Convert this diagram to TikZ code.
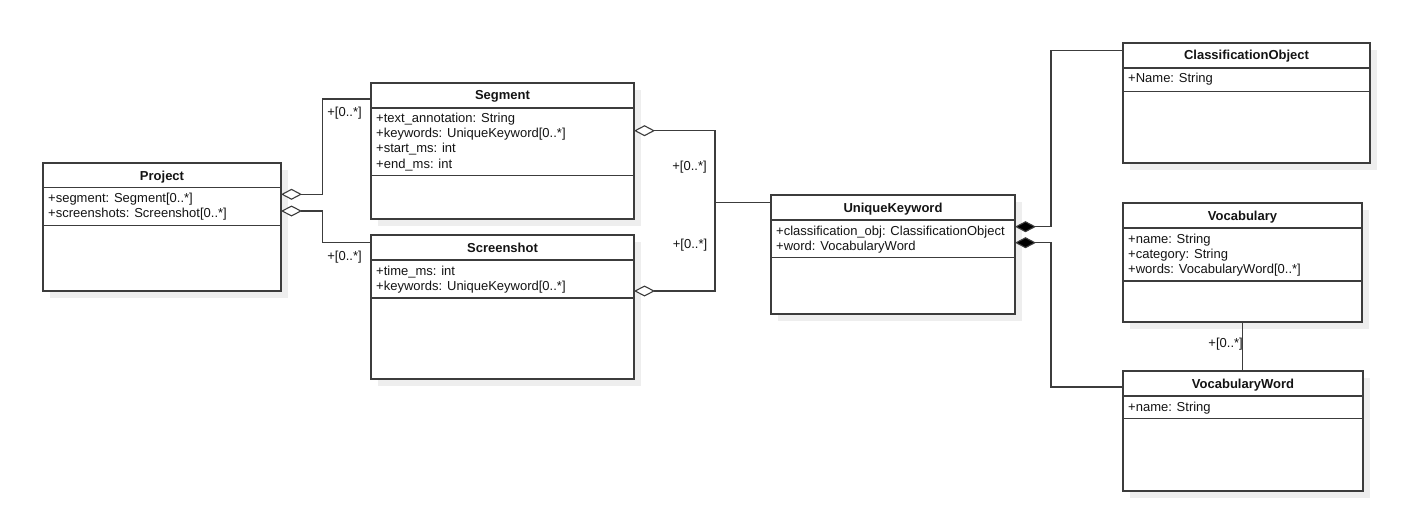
\documentclass[tikz,border=0pt]{standalone}
\usepackage{fontspec}
\setmainfont{Liberation Sans}
\usetikzlibrary{arrows.meta}
\definecolor{linec}{RGB}{60,60,60}
\definecolor{shadowc}{RGB}{238,238,238}
\definecolor{textc}{RGB}{20,20,20}
\tikzset{
  classbox/.style={draw=linec, fill=white, line width=1.1pt, inner sep=0pt, outer sep=0pt, rectangle},
  boxline/.style={draw=linec, line width=1.1pt},
  titlef/.style={font=\fontsize{13}{15}\selectfont\bfseries, text=textc, inner sep=0pt},
  attrf/.style={font=\fontsize{13}{15}\selectfont, text=textc, inner sep=0pt},
  conn/.style={draw=linec, line width=1.1pt},
  odia/.style={conn, {Diamond[fill=white, length=21pt, width=11pt]}-},
  fdia/.style={conn, {Diamond[fill=black, length=21pt, width=11pt]}-},
  mult/.style={font=\fontsize{13}{15}\selectfont, text=textc, inner sep=0pt},
}
% #1 name #2 x #3 y #4 w #5 h #6 header divider #7 attribute divider #8 title #9 attributes
\newcommand\umlclass[9]{%
  \fill[shadowc] (#2+7,#3+7) rectangle (#2+#4+7,#3+#5+7);
  \node[classbox, minimum width=#4pt, minimum height=#5pt, anchor=north west] (#1) at (#2,#3) {};
  \draw[boxline] ([yshift=-#6pt]#1.north west) -- ([yshift=-#6pt]#1.north east);
  \draw[boxline] ([yshift=-#7pt]#1.north west) -- ([yshift=-#7pt]#1.north east);
  \node[titlef, anchor=base] (#1-t) at ([yshift=-17pt]#1.north) {#8};
  \foreach \t [count=\i] in {#9}
    \node[attrf, anchor=base west] (#1-a\i) at ([xshift=5pt, yshift={-(#6+15*\i)*1pt}]#1.north west) {\t};
}
\begin{document}
\begin{tikzpicture}[x=1pt, y=-1pt]
\useasboundingbox (0,0) rectangle (1418,524);
\fill[white] (0,0) rectangle (1418,524);

\umlclass{proj}{43}{163}{238}{128}{24.7}{62.7}{Project}{{+segment: Segment[0..*]},{+screenshots: Screenshot[0..*]}}
\umlclass{seg}{371}{83}{263}{136}{25}{92.3}{Segment}{{+text\_annotation: String},{+keywords: UniqueKeyword[0..*]},{+start\_ms: int},{+end\_ms: int}}
\umlclass{scr}{371}{235}{263}{144}{25}{63}{Screenshot}{{+time\_ms: int},{+keywords: UniqueKeyword[0..*]}}
\umlclass{uk}{771}{195}{244}{119}{25}{62.7}{UniqueKeyword}{{+classification\_obj: ClassificationObject},{+word: VocabularyWord}}
\umlclass{co}{1123}{43}{247}{120}{25}{48.3}{ClassificationObject}{{+Name: String}}
\umlclass{voc}{1123}{203}{239}{119}{25}{78}{Vocabulary}{{+name: String},{+category: String},{+words: VocabularyWord[0..*]}}
\umlclass{vw}{1123}{371}{240}{120}{25}{47.7}{VocabularyWord}{{+name: String}}

% Project -> Segment / Screenshot
\draw[odia] ([yshift=-31.3pt]proj.north east) -- ++(41.7,0) |- ([yshift=-16pt]seg.north west);
\draw[odia] ([yshift=-48pt]proj.north east) -- ++(41.7,0) |- ([yshift=-7.7pt]scr.north west);
\node[mult] (m1) at (344.5,113) {+[0..*]};
\node[mult] (m2) at (344.5,257) {+[0..*]};

% Segment / Screenshot -> UniqueKeyword
\draw[odia] ([yshift=-47.7pt]seg.north east) -- ++(81,0) |- ([yshift=-7.7pt]uk.north west);
\draw[odia] ([yshift=-56pt]scr.north east) -- ++(81,0) |- ([yshift=-7.7pt]uk.north west);
\node[mult] (m3) at (689.5,166.7) {+[0..*]};
\node[mult] (m4) at (690,245) {+[0..*]};

% UniqueKeyword -> ClassificationObject / VocabularyWord
\draw[fdia] ([yshift=-31.7pt]uk.north east) -- ++(36,0) |- ([yshift=-7.7pt]co.north west);
\draw[fdia] ([yshift=-47.7pt]uk.north east) -- ++(36,0) |- ([yshift=-16pt]vw.north west);

% Vocabulary -> VocabularyWord
\draw[conn] (voc.south) -- (voc.south |- vw.north);
\node[mult, anchor=east] (m5) at (1243,344) {+[0..*]};
\end{tikzpicture}
\end{document}
